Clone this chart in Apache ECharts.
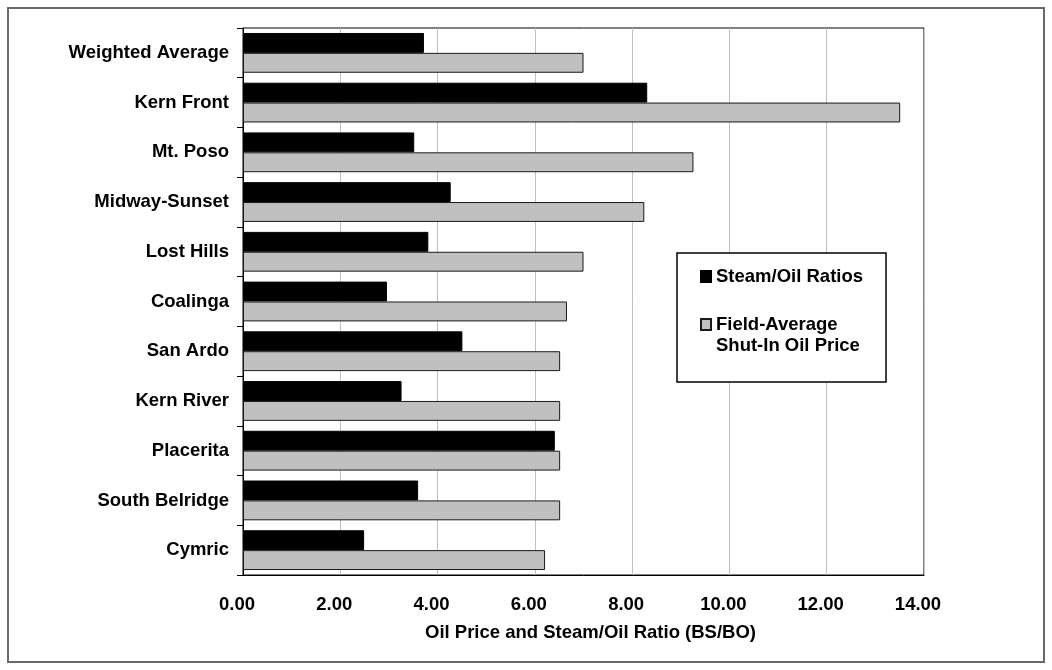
<!DOCTYPE html>
<html>
<head>
<meta charset="utf-8">
<script src="https://cdn.jsdelivr.net/npm/echarts@6/dist/echarts.min.js"></script>
<style>html,body{margin:0;padding:0;background:#fff}#c{width:1052px;height:670px}</style>
</head>
<body>
<div id="c"></div>
<script>
const categories = ['Weighted Average','Kern Front','Mt. Poso','Midway-Sunset','Lost Hills','Coalinga','San Ardo','Kern River','Placerita','South Belridge','Cymric'];
const steamOilRatios = [3.72, 8.31, 3.52, 4.27, 3.81, 2.96, 4.51, 3.26, 6.41, 3.60, 2.49];
const shutInOilPrice = [7.00, 13.51, 9.26, 8.25, 7.00, 6.66, 6.52, 6.52, 6.52, 6.52, 6.21];
const xTicks = { min: 0, max: 14, interval: 2 };
const seriesNames = ['Steam/Oil Ratios', 'Field-Average Shut-In Oil Price'];
const legendLines = ['Field-Average', 'Shut-In Oil Price'];
const xAxisTitle = 'Oil Price and Steam/Oil Ratio (BS/BO)';

const FONT = "'Liberation Sans', Arial, sans-serif";
const FS = 18.5;
const chart = echarts.init(document.getElementById('c'), null, {renderer: 'canvas'});
chart.setOption({
  animation: false,
  backgroundColor: '#fff',
  textStyle: { fontFamily: FONT },
  graphic: [{
    type: 'rect', shape: { x: 8, y: 8, width: 1036, height: 654 },
    style: { fill: 'none', stroke: '#6a6a6a', lineWidth: 2 }, silent: true, z: -10
  }],
  grid: { left: 243, right: 128, top: 28, bottom: 95, show: true, borderColor: '#000', borderWidth: 1, backgroundColor: '#fff' },
  legend: {
    orient: 'vertical', left: 677, top: 253,
    padding: [13, 23, 26, 23],
    itemGap: 6, itemWidth: 10, itemHeight: 11,
    borderColor: '#000', borderWidth: 1.5, backgroundColor: '#fff',
    icon: 'rect',
    textStyle: {
      fontFamily: FONT, fontWeight: 'bold', fontSize: FS, color: '#000', lineHeight: 21,
      rich: {
        p: { fontFamily: FONT, fontWeight: 'bold', fontSize: FS, lineHeight: 21, height: 21 },
        a: { fontFamily: FONT, fontWeight: 'bold', fontSize: FS, color: '#000', lineHeight: 21 }
      }
    },
    formatter: function (n) {
      return n === seriesNames[1] ? '{p| }\n{a|' + legendLines[0] + '}\n{a|' + legendLines[1] + '}' : n;
    },
    data: [ { name: seriesNames[0] }, { name: seriesNames[1] } ]
  },
  xAxis: {
    type: 'value', min: xTicks.min, max: xTicks.max, interval: xTicks.interval,
    axisLine: { show: true, lineStyle: { color: '#000', width: 1 } },
    axisTick: { show: false },
    axisLabel: { formatter: v => v.toFixed(2), color: '#000', fontWeight: 'bold', fontSize: FS, fontFamily: FONT, margin: 20, padding: [0, 12, 0, 0] },
    splitLine: { show: true, lineStyle: { color: '#c0c0c0', width: 1 } },
    name: xAxisTitle, nameLocation: 'middle', nameGap: 48,
    nameTextStyle: { color: '#000', fontWeight: 'bold', fontSize: FS, fontFamily: FONT, padding: [0, 0, 0, 14] }
  },
  yAxis: {
    type: 'category', data: categories, inverse: true,
    axisLine: { show: true, lineStyle: { color: '#000', width: 1 } },
    axisTick: { show: true, length: 6, lineStyle: { color: '#000' } },
    axisLabel: { color: '#000', fontWeight: 'bold', fontSize: FS, fontFamily: FONT, margin: 14 },
    splitLine: { show: false }
  },
  series: [
    { name: seriesNames[0], type: 'bar', data: steamOilRatios, barGap: '0%', barCategoryGap: '20%',
      itemStyle: { color: '#000', borderColor: '#000', borderWidth: 1 } },
    { name: seriesNames[1], type: 'bar', data: shutInOilPrice, barGap: '0%', barCategoryGap: '20%',
      itemStyle: { color: '#c0c0c0', borderColor: '#1a1a1a', borderWidth: 1 } }
  ]
});
</script>
</body>
</html>
